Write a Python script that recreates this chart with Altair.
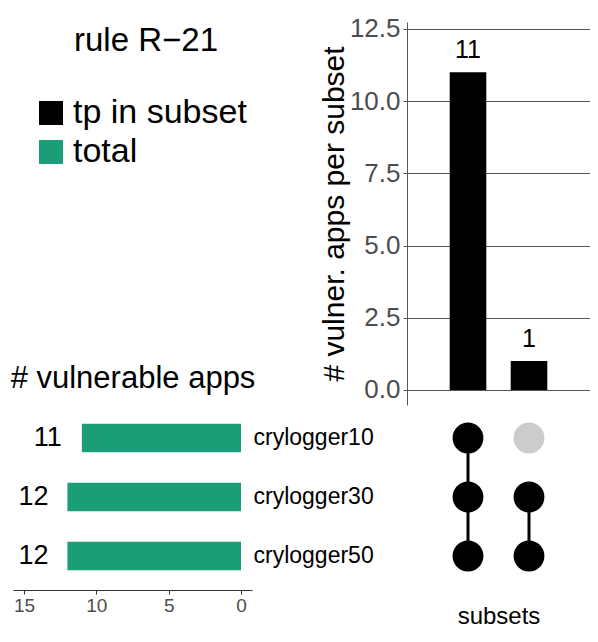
import altair as alt
import pandas as pd

# ---------------- data ----------------
sets = ["crylogger10", "crylogger30", "crylogger50"]
set_sizes = [11, 12, 12]
intersection_names = ["crylogger10 & crylogger30 & crylogger50", "crylogger30 & crylogger50"]
intersection_members = [["crylogger10", "crylogger30", "crylogger50"], ["crylogger30", "crylogger50"]]
intersection_sizes = [11, 1]
y_ticks = [0, 2.5, 5, 7.5, 10, 12.5]
x_ticks = [0, 5, 10, 15]
legend_labels = ["tp in subset", "total"]
legend_colors = ["#000000", "#1b9e77"]

inter_df = pd.DataFrame({"inter": intersection_names, "n": intersection_sizes,
                         "kind": legend_labels[0]})
set_df = pd.DataFrame({"set": sets, "n": set_sizes, "kind": legend_labels[1]})
matrix_df = pd.DataFrame([
    {"inter": nm, "set": s, "member": s in mem, "order": sets.index(s)}
    for nm, mem in zip(intersection_names, intersection_members) for s in sets
])

FONT = "Liberation Sans"
GREY_TXT = "#4d4d4d"
GREY_LINE = "#555555"

# scales with pixel ranges inside the single 582x626 plot area
def x_inter():
    return alt.Scale(type="band", domain=intersection_names, range=[399, 582],
                     paddingInner=0.4, paddingOuter=0.7)

def y_top():
    return alt.Scale(domain=[-0.52, 12.74], range=[397, 14], nice=False, zero=False)

def y_set():
    return alt.Scale(type="band", domain=sets, range=[396, 582],
                     paddingInner=0.52, paddingOuter=0.336)

def x_set():
    return alt.Scale(domain=[-0.76, 15.76], range=[244, 5], nice=False, zero=False)

color_scale = alt.Scale(domain=legend_labels, range=legend_colors)

# ---------------- top bars ----------------
top_bars = alt.Chart(inter_df).mark_bar().encode(
    x=alt.X("inter:N", scale=x_inter(), axis=None),
    y=alt.Y("n:Q", scale=y_top(),
            axis=alt.Axis(orient="left", offset=-399, values=y_ticks, format=".1f",
                          grid=True, gridColor=GREY_LINE, gridWidth=1,
                          domainColor=GREY_LINE, tickColor=GREY_LINE, tickSize=4,
                          labelFontSize=26, labelColor=GREY_TXT, labelPadding=3,
                          title="# vulner. apps per subset", titleFontSize=30,
                          titleFontWeight="normal", titleColor="black", titlePadding=0)),
    color=alt.Color("kind:N", scale=color_scale,
                    legend=alt.Legend(orient="none", legendX=26, legendY=88, title=None,
                                      symbolType="square", symbolSize=576,
                                      symbolStrokeWidth=0, labelFontSize=34,
                                      labelLimit=400,
                                      labelColor="black", rowPadding=5, labelOffset=5)),
)

top_labels = alt.Chart(inter_df).mark_text(fontSize=25, baseline="alphabetic", dy=-14,
                                           color="black").encode(
    x=alt.X("inter:N", scale=x_inter(), axis=None),
    y=alt.Y("n:Q", scale=y_top(), axis=None),
    text="n:Q",
)

# ---------------- set size bars ----------------
set_bars = alt.Chart(set_df).mark_bar().encode(
    x=alt.X("n:Q", scale=x_set(),
            axis=alt.Axis(orient="top", offset=-396, labels=False, ticks=False, domain=False,
                          grid=False, title="# vulnerable apps", titleFontSize=31,
                          titleFontWeight="normal", titleColor="black", titlePadding=10)),
    y=alt.Y("set:N", scale=y_set(),
            axis=alt.Axis(orient="right", offset=-337, ticks=False, domain=False, grid=False,
                          labelPadding=0, tickSize=0, labelFontSize=23, labelColor="black",
                          title=None)),
    color=alt.Color("kind:N", scale=color_scale),
)

set_labels = alt.Chart(set_df).mark_text(fontSize=27, baseline="middle", dx=-34,
                                         color="black").encode(
    x=alt.X("n:Q", scale=x_set(),
            axis=alt.Axis(orient="bottom", offset=-44, values=x_ticks, grid=False,
                          domainColor="#333333", tickColor="#333333", tickSize=4,
                          labelFontSize=19, labelColor=GREY_TXT, title=None)),
    y=alt.Y("set:N", scale=y_set(), axis=None),
    text="n:Q",
)

# ---------------- matrix ----------------
matrix_lines = alt.Chart(matrix_df).transform_filter("datum.member").mark_line(
    color="black", strokeWidth=3).encode(
    x=alt.X("inter:N", scale=x_inter(), axis=None),
    y=alt.Y("set:N", scale=y_set(), axis=None),
    detail="inter:N",
    order="order:Q",
)

matrix_dots = alt.Chart(matrix_df).mark_point(filled=True, shape="circle", size=950,
                                              opacity=1).encode(
    x=alt.X("inter:N", scale=x_inter(),
            axis=alt.Axis(orient="bottom", offset=-44, labels=False, ticks=False,
                          domain=False, grid=False, title="subsets", titleFontSize=24,
                          titleFontWeight="normal", titleColor="black", titlePadding=14)),
    y=alt.Y("set:N", scale=y_set(), axis=None),
    fill=alt.condition("datum.member", alt.value("black"), alt.value("#cccccc")),
)

chart = alt.layer(
    top_bars, top_labels, set_bars, set_labels, matrix_lines, matrix_dots
).resolve_scale(
    x="independent", y="independent"
).properties(
    width=582, height=626,
    autosize=alt.AutoSizeParams(type="none"),
    padding=0,
    title=alt.TitleParams("rule R\u221221", anchor="start", dx=66, dy=76, offset=0,
                          baseline="alphabetic", fontSize=33, fontWeight="normal",
                          color="black", font=FONT),
).configure(
    font=FONT,
).configure_view(
    stroke=None,
).configure_axis(
    labelFont=FONT, titleFont=FONT,
).configure_legend(
    labelFont=FONT,
)

chart.save("out.html", embed_options={"renderer": "svg", "actions": False})
